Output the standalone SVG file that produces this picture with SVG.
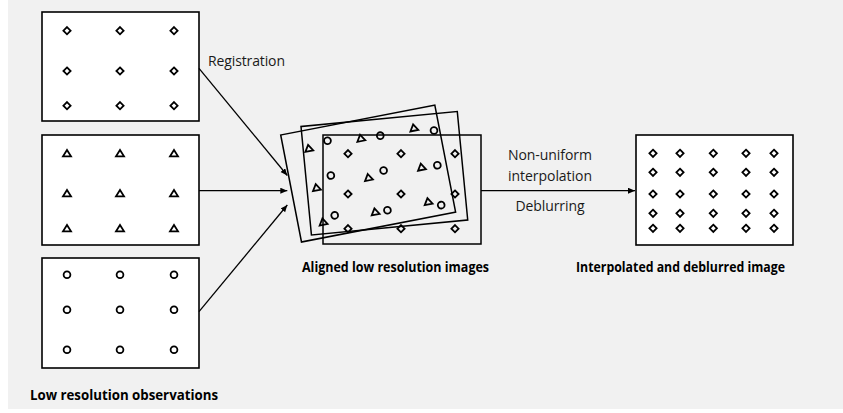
<svg xmlns="http://www.w3.org/2000/svg" xmlns:xlink="http://www.w3.org/1999/xlink" width="843" height="413" viewBox="0 0 843 413">
<style>
.box{fill:#ffffff;stroke:#000;stroke-width:1.6}
.frame{fill:none;stroke:#000;stroke-width:1.5}
.mk{fill:none;stroke:#000;stroke-width:1.8}
.conn{stroke:#000;stroke-width:1.3;fill:none;marker-end:url(#ah)}
.lbl{font-family:"Open Sans","Liberation Sans",sans-serif;font-size:14px;fill:#1a1a1a}
.cap{font-family:"Open Sans","Liberation Sans",sans-serif;font-size:14px;font-weight:bold;fill:#000}
</style>
<defs>
<marker id="ah" markerUnits="userSpaceOnUse" markerWidth="8" markerHeight="7" refX="7" refY="3" orient="auto">
<path d="M0,0 L7,3 L0,6 z" fill="#000"/>
</marker>
<path id="dm" class="mk" d="M0,-3.6 L3.6,0 L0,3.6 L-3.6,0 z"/>
<path id="tr" class="mk" d="M0,-3.4 L4,3 L-4,3 z"/>
<circle id="ci" class="mk" r="3.4"/>
<g id="pd">
<use xlink:href="#dm" x="25" y="18.7"/><use xlink:href="#dm" x="78" y="18.7"/><use xlink:href="#dm" x="132" y="18.7"/>
<use xlink:href="#dm" x="25" y="59"/><use xlink:href="#dm" x="78" y="59"/><use xlink:href="#dm" x="132" y="59"/>
<use xlink:href="#dm" x="25" y="93.7"/><use xlink:href="#dm" x="78" y="93.7"/><use xlink:href="#dm" x="132" y="93.7"/>
</g>
<g id="pt">
<use xlink:href="#tr" x="25" y="18.3"/><use xlink:href="#tr" x="78" y="18.3"/><use xlink:href="#tr" x="132" y="18.3"/>
<use xlink:href="#tr" x="25" y="58.3"/><use xlink:href="#tr" x="78" y="58.3"/><use xlink:href="#tr" x="132" y="58.3"/>
<use xlink:href="#tr" x="25" y="93.3"/><use xlink:href="#tr" x="78" y="93.3"/><use xlink:href="#tr" x="132" y="93.3"/>
</g>
<g id="pc">
<use xlink:href="#ci" x="25" y="16.7"/><use xlink:href="#ci" x="78" y="16.7"/><use xlink:href="#ci" x="132" y="16.7"/>
<use xlink:href="#ci" x="25" y="51.7"/><use xlink:href="#ci" x="78" y="51.7"/><use xlink:href="#ci" x="132" y="51.7"/>
<use xlink:href="#ci" x="25" y="91.7"/><use xlink:href="#ci" x="78" y="91.7"/><use xlink:href="#ci" x="132" y="91.7"/>
</g>
</defs>
<rect x="0" y="0" width="843" height="413" fill="#ffffff"/>
<rect x="8" y="0" width="835" height="409" fill="#f1f1f1"/>

<g id="obs1" transform="translate(42,12)">
<rect class="box" x="0" y="0" width="157" height="109"/>
<use xlink:href="#pd"/>
</g>
<g id="obs2" transform="translate(42,135)">
<rect class="box" x="0" y="0" width="157" height="110"/>
<use xlink:href="#pt"/>
</g>
<g id="obs3" transform="translate(42,258)">
<rect class="box" x="0" y="0" width="157" height="110"/>
<use xlink:href="#pc"/>
</g>
<text id="lbl-obs" class="cap" x="30" y="399.5" textLength="188" lengthAdjust="spacingAndGlyphs">Low resolution observations</text>

<g id="aligned">
<g transform="translate(280.7,135) rotate(-11)">
<rect class="frame" x="0" y="0" width="157" height="109"/>
<use xlink:href="#pt"/>
</g>
<g transform="translate(301,126.5) rotate(-5.5)">
<rect class="frame" x="0" y="0" width="157" height="109"/>
<use xlink:href="#pc"/>
</g>
<g transform="translate(323,135)">
<rect class="frame" x="0" y="0" width="158" height="109"/>
<use xlink:href="#pd"/>
</g>
<text class="cap" x="302" y="271.5" textLength="187" lengthAdjust="spacingAndGlyphs">Aligned low resolution images</text>
</g>

<g id="result">
<rect class="box" x="636" y="135" width="157" height="110"/>
<g>
<use xlink:href="#dm" x="653" y="153.3"/><use xlink:href="#dm" x="680" y="153.3"/><use xlink:href="#dm" x="713.3" y="153.3"/><use xlink:href="#dm" x="746" y="153.3"/><use xlink:href="#dm" x="774" y="153.3"/>
<use xlink:href="#dm" x="653" y="172.3"/><use xlink:href="#dm" x="680" y="172.3"/><use xlink:href="#dm" x="713.3" y="172.3"/><use xlink:href="#dm" x="746" y="172.3"/><use xlink:href="#dm" x="774" y="172.3"/>
<use xlink:href="#dm" x="653" y="194"/><use xlink:href="#dm" x="680" y="194"/><use xlink:href="#dm" x="713.3" y="194"/><use xlink:href="#dm" x="746" y="194"/><use xlink:href="#dm" x="774" y="194"/>
<use xlink:href="#dm" x="653" y="213.3"/><use xlink:href="#dm" x="680" y="213.3"/><use xlink:href="#dm" x="713.3" y="213.3"/><use xlink:href="#dm" x="746" y="213.3"/><use xlink:href="#dm" x="774" y="213.3"/>
<use xlink:href="#dm" x="653" y="228.3"/><use xlink:href="#dm" x="680" y="228.3"/><use xlink:href="#dm" x="713.3" y="228.3"/><use xlink:href="#dm" x="746" y="228.3"/><use xlink:href="#dm" x="774" y="228.3"/>
</g>
<text class="cap" x="576" y="271.5" textLength="209" lengthAdjust="spacingAndGlyphs">Interpolated and deblurred image</text>
</g>

<g id="connectors">
<line class="conn" x1="199" y1="68.3" x2="287.3" y2="175.5"/>
<line class="conn" x1="199" y1="190.7" x2="287.3" y2="190.7"/>
<line class="conn" x1="199" y1="311.7" x2="287.3" y2="205"/>
<line class="conn" x1="481" y1="190.7" x2="635" y2="190.7"/>
<text class="lbl" x="208" y="65.5" textLength="77">Registration</text>
<text class="lbl" x="550" y="159.5" text-anchor="middle" textLength="84">Non-uniform</text>
<text class="lbl" x="550" y="180.5" text-anchor="middle" textLength="84">interpolation</text>
<text class="lbl" x="550" y="211" text-anchor="middle" textLength="69">Deblurring</text>
</g>
</svg>
